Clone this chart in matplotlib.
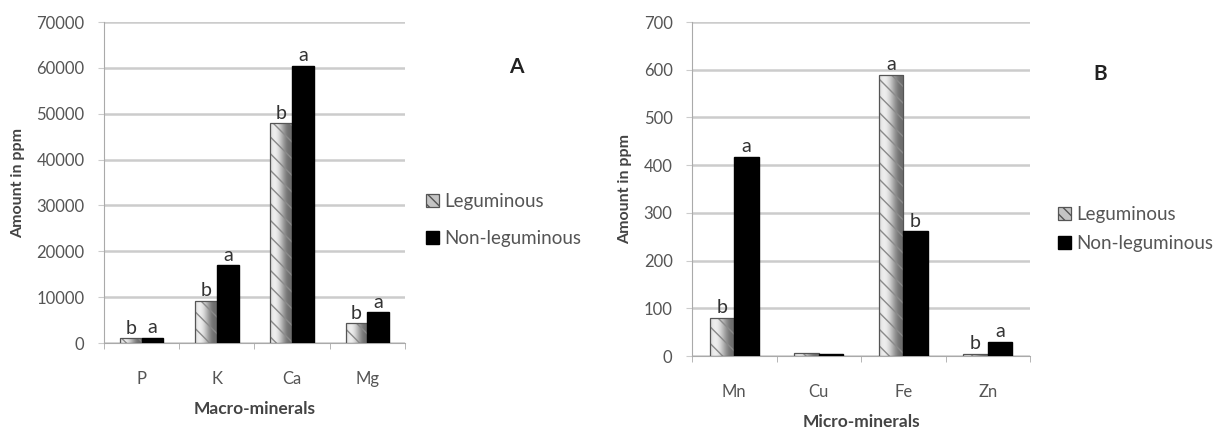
import numpy as np
import matplotlib
matplotlib.use("Agg")
import matplotlib.pyplot as plt
from matplotlib.patches import Patch

plt.rcParams['font.family'] = ['Lato', 'DejaVu Sans']

# panel A data
macro = ["P", "K", "Ca", "Mg"]
macro_leg = [1000, 9200, 48000, 4300]
macro_non = [1200, 17000, 60500, 6700]
macro_leg_lbl = ["b", "b", "b", "b"]
macro_non_lbl = ["a", "a", "a", "a"]

# panel B data
micro = ["Mn", "Cu", "Fe", "Zn"]
micro_leg = [80, 6, 590, 5]
micro_non = [418, 5, 262, 30]
micro_leg_lbl = ["b", "", "a", "b"]
micro_non_lbl = ["a", "", "b", "a"]

series = ["Leguminous", "Non-leguminous"]

txt = '#555555'
grid = '#cccccc'


def gradient_fill(ax, bars):
    # cylinder-like grey shading for the leguminous bars
    g = np.linspace(0, 1, 64)
    shade = 0.68 + 0.25 * np.cos(g * np.pi * 1.4 - 0.9)
    img = np.tile(shade, (2, 1))
    for r in bars:
        x0, y0, w, h = r.get_x(), r.get_y(), r.get_width(), r.get_height()
        im = ax.imshow(img, extent=[x0, x0 + w, y0, y0 + h], aspect='auto',
                       cmap='gray', vmin=0, vmax=1, zorder=2, interpolation='bilinear')
        im.set_clip_path(r)


def panel(ax, cats, leg, non, leg_lbl, non_lbl, ymax, step, xlabel, letter_off):
    x = np.arange(len(cats))
    w = 0.29
    b1 = ax.bar(x - w / 2, leg, w, facecolor='none', edgecolor='#8a8a8a',
                linewidth=0, hatch='\\\\', zorder=3)
    gradient_fill(ax, b1)
    ax.bar(x - w / 2, leg, w, facecolor='none', edgecolor='#555555',
           linewidth=0.9, zorder=4)
    ax.bar(x + w / 2, non, w, color='black', edgecolor='black', zorder=4)
    for xi, v, s in zip(x, leg, leg_lbl):
        if s:
            ax.text(xi - w / 2, v + letter_off, s, ha='center', va='bottom',
                    fontsize=14, color='#333333')
    for xi, v, s in zip(x, non, non_lbl):
        if s:
            ax.text(xi + w / 2, v + letter_off, s, ha='center', va='bottom',
                    fontsize=14, color='#333333')
    ax.set_xlim(-0.5, len(cats) - 0.5)
    ax.set_ylim(0, ymax)
    ax.set_yticks(np.arange(0, ymax + 1, step))
    ax.set_xticks(x)
    ax.set_xticklabels(cats)
    ax.set_xticks(np.arange(-0.5, len(cats)), minor=True)
    ax.tick_params(axis='x', which='major', length=0, pad=20, labelsize=12, colors=txt)
    ax.tick_params(axis='x', which='minor', length=4, color='#aaaaaa')
    ax.tick_params(axis='y', length=4, color=grid, labelsize=12, colors=txt, pad=10)
    ax.grid(axis='y', color=grid, linewidth=1.8, zorder=0)
    ax.set_axisbelow(True)
    for s in ['top', 'right']:
        ax.spines[s].set_visible(False)
    ax.spines['left'].set_color('#aaaaaa')
    ax.spines['bottom'].set_color('#aaaaaa')
    ax.set_xlabel(xlabel, fontsize=12.5, fontweight='bold', color='#444444', labelpad=10)
    ax.set_ylabel("Amount in ppm", fontsize=11.5, fontweight='bold', color='#444444',
                  labelpad=8)


fig = plt.figure(figsize=(12.13, 4.30), dpi=100)
axA = fig.add_axes([0.0857, 0.2023, 0.2482, 0.7465])
axB = fig.add_axes([0.5705, 0.172, 0.2787, 0.7767])

panel(axA, macro, macro_leg, macro_non, macro_leg_lbl, macro_non_lbl,
      70000, 10000, "Macro-minerals", 300)
panel(axB, micro, micro_leg, micro_non, micro_leg_lbl, micro_non_lbl,
      700, 100, "Micro-minerals", 3)

fig.text(0.426, 0.83, "A", fontsize=15, fontweight='bold', color='#222222', ha='center')
fig.text(0.907, 0.815, "B", fontsize=15, fontweight='bold', color='#222222', ha='center')

handles = [Patch(facecolor='#c4c4c4', edgecolor='#555555', hatch='\\\\\\', linewidth=0.9),
           Patch(facecolor='black', edgecolor='black')]

fig.legend(handles, series, loc='upper left', bbox_to_anchor=(0.337, 0.59),
           frameon=False, fontsize=13.5, labelcolor=txt, handlelength=0.7,
           handleheight=0.7, handletextpad=0.3, labelspacing=1.05)
fig.legend(handles, series, loc='upper left', bbox_to_anchor=(0.858, 0.56),
           frameon=False, fontsize=13.5, labelcolor=txt, handlelength=0.7,
           handleheight=0.7, handletextpad=0.3, labelspacing=0.65)

fig.savefig("out.png", dpi=100)
